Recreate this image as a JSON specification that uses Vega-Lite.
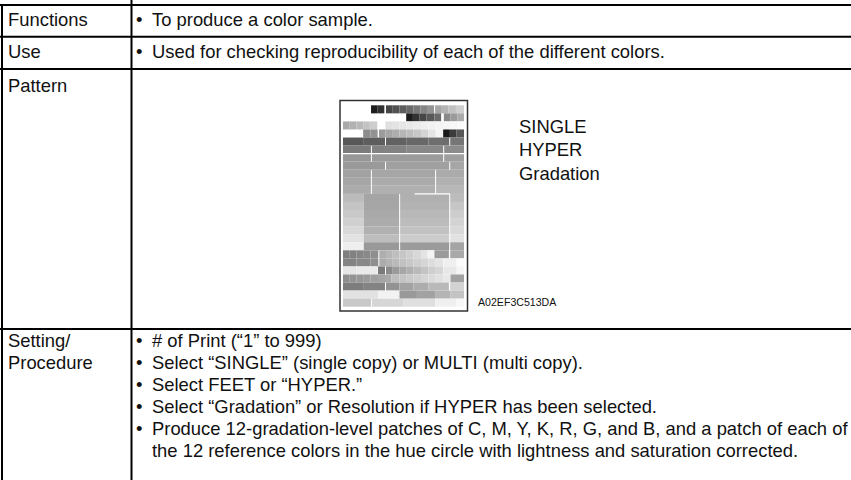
{
  "$schema": "https://vega.github.io/schema/vega-lite/v6.json",
  "width": 851,
  "height": 480,
  "padding": 0,
  "autosize": {"type": "none"},
  "background": "white",
  "config": {"view": {"stroke": null}},
  "datasets": {
    "lines": [
      {"x": 0, "x2": 851, "y": 5, "y2": 5},
      {"x": 0, "x2": 851, "y": 36.7, "y2": 36.7},
      {"x": 0, "x2": 851, "y": 69, "y2": 69},
      {"x": 0, "x2": 851, "y": 329, "y2": 329},
      {"x": 2, "x2": 2, "y": 4, "y2": 480},
      {"x": 131.5, "x2": 131.5, "y": 0, "y2": 480}
    ],
    "texts": [
      {"x": 8, "y": 26, "t": "Functions"},
      {"x": 8, "y": 58, "t": "Use"},
      {"x": 8, "y": 91.5, "t": "Pattern"},
      {"x": 8, "y": 347, "t": "Setting/"},
      {"x": 8, "y": 369, "t": "Procedure"},
      {"x": 136, "y": 26, "t": "•"},
      {"x": 136, "y": 58, "t": "•"},
      {"x": 136, "y": 347, "t": "•"},
      {"x": 136, "y": 369, "t": "•"},
      {"x": 136, "y": 391, "t": "•"},
      {"x": 136, "y": 413, "t": "•"},
      {"x": 136, "y": 435, "t": "•"},
      {"x": 152, "y": 26, "t": "To produce a color sample."},
      {"x": 152, "y": 58, "t": "Used for checking reproducibility of each of the different colors."},
      {"x": 152, "y": 347, "t": "# of Print (“1” to 999)"},
      {"x": 152, "y": 369, "t": "Select “SINGLE” (single copy) or MULTI (multi copy)."},
      {"x": 152, "y": 391, "t": "Select FEET or “HYPER.”"},
      {"x": 152, "y": 413, "t": "Select “Gradation” or Resolution if HYPER has been selected."},
      {"x": 152, "y": 435, "t": "Produce 12-gradation-level patches of C, M, Y, K, R, G, and B, and a patch of each of"},
      {"x": 152, "y": 457, "t": "the 12 reference colors in the hue circle with lightness and saturation corrected."},
      {"x": 519, "y": 132.5, "t": "SINGLE"},
      {"x": 519, "y": 156, "t": "HYPER"},
      {"x": 519, "y": 179.5, "t": "Gradation"}
    ],
    "caption": [
      {"x": 478, "y": 306, "t": "A02EF3C513DA"}
    ],
    "frame": [
      {"x": 340, "x2": 467.5, "y": 100.5, "y2": 311}
    ],
    "patch": [
      {"r": 0, "c": 4.17, "c2": 5.16, "g": "#1e1e1e"},
      {"r": 0, "c": 5.16, "c2": 6.15, "g": "#313131"},
      {"r": 0, "c": 6.4, "c2": 7.4, "g": "#464646"},
      {"r": 0, "c": 7.4, "c2": 8.4, "g": "#525252"},
      {"r": 0, "c": 8.4, "c2": 9.4, "g": "#5e5e5e"},
      {"r": 0, "c": 9.4, "c2": 10.5, "g": "#6a6a6a"},
      {"r": 0, "c": 10.5, "c2": 11.5, "g": "#777777"},
      {"r": 0, "c": 11.5, "c2": 12.5, "g": "#858585"},
      {"r": 0, "c": 12.5, "c2": 13.55, "g": "#939393"},
      {"r": 0, "c": 13.7, "c2": 14.7, "g": "#a5a5a5"},
      {"r": 0, "c": 14.7, "c2": 15.7, "g": "#b3b3b3"},
      {"r": 0, "c": 15.7, "c2": 16.8, "g": "#c1c1c1"},
      {"r": 0, "c": 16.8, "c2": 18, "g": "#cfcfcf"},
      {"r": 1, "c": 9.4, "c2": 10.4, "g": "#1c1c1c"},
      {"r": 1, "c": 10.4, "c2": 11.4, "g": "#323232"},
      {"r": 1, "c": 11.4, "c2": 12.4, "g": "#464646"},
      {"r": 1, "c": 12.4, "c2": 13.6, "g": "#585858"},
      {"r": 1, "c": 13.6, "c2": 14.6, "g": "#6a6a6a"},
      {"r": 1, "c": 15, "c2": 16, "g": "#898989"},
      {"r": 1, "c": 16, "c2": 17, "g": "#9a9a9a"},
      {"r": 1, "c": 17, "c2": 18, "g": "#ababab"},
      {"r": 2, "c": 0, "c2": 1, "g": "#a9a9a9"},
      {"r": 2, "c": 1, "c2": 2, "g": "#b1b1b1"},
      {"r": 2, "c": 2, "c2": 3, "g": "#b9b9b9"},
      {"r": 2, "c": 3, "c2": 4, "g": "#c3c3c3"},
      {"r": 2, "c": 4, "c2": 5.1, "g": "#cdcdcd"},
      {"r": 2, "c": 6.3, "c2": 7.3, "g": "#e0e0e0"},
      {"r": 2, "c": 7.3, "c2": 8.4, "g": "#e3e3e3"},
      {"r": 2, "c": 8.4, "c2": 9.4, "g": "#e6e6e6"},
      {"r": 2, "c": 9.4, "c2": 10.5, "g": "#e9e9e9"},
      {"r": 2, "c": 10.5, "c2": 11.6, "g": "#ececec"},
      {"r": 2, "c": 11.6, "c2": 12.7, "g": "#efefef"},
      {"r": 2, "c": 12.7, "c2": 13.8, "g": "#f2f2f2"},
      {"r": 2, "c": 13.8, "c2": 14.9, "g": "#f4f4f4"},
      {"r": 2, "c": 14.9, "c2": 16, "g": "#f6f6f6"},
      {"r": 2, "c": 16, "c2": 17, "g": "#f8f8f8"},
      {"r": 2, "c": 17, "c2": 18, "g": "#fafafa"},
      {"r": 3, "c": 3, "c2": 4.1, "g": "#8c8c8c"},
      {"r": 3, "c": 4.1, "c2": 5.15, "g": "#929292"},
      {"r": 3, "c": 5.35, "c2": 6.3, "g": "#9b9b9b"},
      {"r": 3, "c": 6.3, "c2": 7.3, "g": "#a6a6a6"},
      {"r": 3, "c": 7.3, "c2": 8.4, "g": "#aeaeae"},
      {"r": 3, "c": 8.4, "c2": 9.4, "g": "#b6b6b6"},
      {"r": 3, "c": 9.4, "c2": 10.5, "g": "#bebebe"},
      {"r": 3, "c": 10.5, "c2": 11.6, "g": "#c8c8c8"},
      {"r": 3, "c": 11.6, "c2": 12.7, "g": "#d4d4d4"},
      {"r": 3, "c": 12.7, "c2": 13.8, "g": "#e4e4e4"},
      {"r": 3, "c": 13.8, "c2": 14.9, "g": "#f4f4f4"},
      {"r": 3, "c": 14.9, "c2": 15.9, "g": "#1a1a1a"},
      {"r": 3, "c": 15.9, "c2": 16.9, "g": "#3c3c3c"},
      {"r": 3, "c": 16.9, "c2": 18, "g": "#575757"},
      {"r": 4, "c": 0, "c2": 3.1, "g": "#585858"},
      {"r": 4, "c": 3.1, "c2": 6.25, "g": "#5e5e5e"},
      {"r": 4, "c": 6.4, "c2": 9.4, "g": "#626262"},
      {"r": 4, "c": 9.4, "c2": 12.7, "g": "#686868"},
      {"r": 4, "c": 12.7, "c2": 15.8, "g": "#6e6e6e"},
      {"r": 4, "c": 15.95, "c2": 18, "g": "#767676"},
      {"r": 5, "c": 0, "c2": 4.15, "g": "#7b7b7b"},
      {"r": 5, "c": 4.3, "c2": 9.4, "g": "#828282"},
      {"r": 5, "c": 9.4, "c2": 14.9, "g": "#888888"},
      {"r": 5, "c": 15.05, "c2": 18, "g": "#8c8c8c"},
      {"r": 6, "c": 0, "c2": 4.15, "g": "#979797"},
      {"r": 6, "c": 4.3, "c2": 14.9, "g": "#9b9b9b"},
      {"r": 6, "c": 15.05, "c2": 18, "g": "#9f9f9f"},
      {"r": 7, "c": 0, "c2": 6.25, "g": "#9a9a9a"},
      {"r": 7, "c": 6.4, "c2": 15.8, "g": "#a0a0a0"},
      {"r": 7, "c": 15.95, "c2": 18, "g": "#a6a6a6"},
      {"r": 8, "c": 0, "c2": 4.15, "g": "#a2a2a2"},
      {"r": 8, "c": 4.3, "c2": 13.7, "g": "#a6a6a6"},
      {"r": 8, "c": 13.85, "c2": 18, "g": "#ababab"},
      {"r": 9, "c": 0, "c2": 4.15, "g": "#a6a6a6"},
      {"r": 9, "c": 4.3, "c2": 13.7, "g": "#ababab"},
      {"r": 9, "c": 13.85, "c2": 18, "g": "#b1b1b1"},
      {"r": 10, "c": 0, "c2": 4.15, "g": "#ababab"},
      {"r": 10, "c": 4.3, "c2": 13.7, "g": "#b0b0b0"},
      {"r": 10, "c": 13.85, "c2": 18, "g": "#b7b7b7"},
      {"r": 11, "c": 0, "c2": 3.1, "g": "#bbbbbb"},
      {"r": 11, "c": 3.1, "c2": 8.35, "g": "#a5a5a5"},
      {"r": 11, "c": 8.5, "c2": 15.8, "g": "#b0b0b0"},
      {"r": 11, "c": 15.95, "c2": 18, "g": "#bcbcbc"},
      {"r": 12, "c": 0, "c2": 3.1, "g": "#c4c4c4"},
      {"r": 12, "c": 3.1, "c2": 8.35, "g": "#a6a6a6"},
      {"r": 12, "c": 8.5, "c2": 15.8, "g": "#b3b3b3"},
      {"r": 12, "c": 15.95, "c2": 18, "g": "#c6c6c6"},
      {"r": 13, "c": 0, "c2": 3.1, "g": "#c9c9c9"},
      {"r": 13, "c": 3.1, "c2": 8.35, "g": "#a9a9a9"},
      {"r": 13, "c": 8.5, "c2": 15.8, "g": "#b8b8b8"},
      {"r": 13, "c": 15.95, "c2": 18, "g": "#cdcdcd"},
      {"r": 14, "c": 0, "c2": 3.1, "g": "#d0d0d0"},
      {"r": 14, "c": 3.1, "c2": 8.35, "g": "#acacac"},
      {"r": 14, "c": 8.5, "c2": 15.8, "g": "#bcbcbc"},
      {"r": 14, "c": 15.95, "c2": 18, "g": "#d3d3d3"},
      {"r": 15, "c": 0, "c2": 3.1, "g": "#d8d8d8"},
      {"r": 15, "c": 3.1, "c2": 8.35, "g": "#b1b1b1"},
      {"r": 15, "c": 8.5, "c2": 15.8, "g": "#c2c2c2"},
      {"r": 15, "c": 15.95, "c2": 18, "g": "#d9d9d9"},
      {"r": 16, "c": 0, "c2": 3.1, "g": "#e2e2e2"},
      {"r": 16, "c": 3.1, "c2": 8.35, "g": "#bdbdbd"},
      {"r": 16, "c": 8.5, "c2": 15.8, "g": "#cccccc"},
      {"r": 16, "c": 15.95, "c2": 18, "g": "#e2e2e2"},
      {"r": 17, "c": 0, "c2": 3.1, "g": "#efefef"},
      {"r": 17, "c": 3.1, "c2": 8.35, "g": "#999999"},
      {"r": 17, "c": 8.5, "c2": 15.8, "g": "#9b9b9b"},
      {"r": 17, "c": 15.95, "c2": 18, "g": "#a4a4a4"},
      {"r": 18, "c": 0, "c2": 1, "g": "#7e7e7e"},
      {"r": 18, "c": 1, "c2": 2, "g": "#818181"},
      {"r": 18, "c": 2, "c2": 3.1, "g": "#858585"},
      {"r": 18, "c": 3.1, "c2": 4.1, "g": "#898989"},
      {"r": 18, "c": 4.1, "c2": 5.25, "g": "#8e8e8e"},
      {"r": 18, "c": 5.4, "c2": 6.4, "g": "#aeaeae"},
      {"r": 18, "c": 6.4, "c2": 7.4, "g": "#b6b6b6"},
      {"r": 18, "c": 7.4, "c2": 8.4, "g": "#bebebe"},
      {"r": 18, "c": 8.4, "c2": 9.4, "g": "#c6c6c6"},
      {"r": 18, "c": 9.4, "c2": 10.5, "g": "#cecece"},
      {"r": 18, "c": 10.5, "c2": 11.6, "g": "#d8d8d8"},
      {"r": 18, "c": 11.6, "c2": 12.6, "g": "#e4e4e4"},
      {"r": 18, "c": 12.6, "c2": 13.6, "g": "#f4f4f4"},
      {"r": 18, "c": 13.6, "c2": 15.75, "g": "#9a9a9a"},
      {"r": 18, "c": 15.95, "c2": 18, "g": "#a9a9a9"},
      {"r": 19, "c": 0, "c2": 2, "g": "#838383"},
      {"r": 19, "c": 2, "c2": 4.1, "g": "#888888"},
      {"r": 19, "c": 4.1, "c2": 5.25, "g": "#8e8e8e"},
      {"r": 19, "c": 5.4, "c2": 6.4, "g": "#acacac"},
      {"r": 19, "c": 6.4, "c2": 7.4, "g": "#b3b3b3"},
      {"r": 19, "c": 7.4, "c2": 8.4, "g": "#bababa"},
      {"r": 19, "c": 8.4, "c2": 9.4, "g": "#c1c1c1"},
      {"r": 19, "c": 9.4, "c2": 10.5, "g": "#c8c8c8"},
      {"r": 19, "c": 10.5, "c2": 11.6, "g": "#cfcfcf"},
      {"r": 19, "c": 11.6, "c2": 12.7, "g": "#d6d6d6"},
      {"r": 19, "c": 12.7, "c2": 13.8, "g": "#dddddd"},
      {"r": 19, "c": 13.8, "c2": 14.9, "g": "#e4e4e4"},
      {"r": 19, "c": 14.95, "c2": 16.9, "g": "#efefef"},
      {"r": 19, "c": 16.9, "c2": 18, "g": "#fbfbfb"},
      {"r": 20, "c": 0, "c2": 2, "g": "#e6e6e6"},
      {"r": 20, "c": 2, "c2": 5.1, "g": "#eaeaea"},
      {"r": 20, "c": 5.2, "c2": 6.25, "g": "#7a7a7a"},
      {"r": 20, "c": 6.4, "c2": 7.4, "g": "#8a8a8a"},
      {"r": 20, "c": 7.4, "c2": 8.4, "g": "#9a9a9a"},
      {"r": 20, "c": 8.4, "c2": 9.4, "g": "#a6a6a6"},
      {"r": 20, "c": 9.4, "c2": 10.5, "g": "#b0b0b0"},
      {"r": 20, "c": 10.5, "c2": 11.6, "g": "#bababa"},
      {"r": 20, "c": 11.6, "c2": 12.7, "g": "#c4c4c4"},
      {"r": 20, "c": 12.7, "c2": 13.8, "g": "#cecece"},
      {"r": 20, "c": 13.8, "c2": 14.9, "g": "#d6d6d6"},
      {"r": 20, "c": 14.95, "c2": 16.9, "g": "#e8e8e8"},
      {"r": 20, "c": 16.9, "c2": 18, "g": "#f5f5f5"},
      {"r": 21, "c": 0, "c2": 1, "g": "#8f8f8f"},
      {"r": 21, "c": 1, "c2": 2, "g": "#939393"},
      {"r": 21, "c": 2, "c2": 3.1, "g": "#979797"},
      {"r": 21, "c": 3.1, "c2": 4.1, "g": "#9b9b9b"},
      {"r": 21, "c": 4.1, "c2": 5.2, "g": "#9f9f9f"},
      {"r": 21, "c": 5.2, "c2": 6.25, "g": "#a4a4a4"},
      {"r": 21, "c": 6.25, "c2": 7.2, "g": "#a9a9a9"},
      {"r": 21, "c": 7.2, "c2": 8.4, "g": "#bdbdbd"},
      {"r": 21, "c": 8.4, "c2": 9.4, "g": "#c3c3c3"},
      {"r": 21, "c": 9.4, "c2": 10.5, "g": "#c9c9c9"},
      {"r": 21, "c": 10.5, "c2": 11.6, "g": "#cfcfcf"},
      {"r": 21, "c": 11.6, "c2": 12.7, "g": "#d5d5d5"},
      {"r": 21, "c": 12.7, "c2": 13.8, "g": "#dbdbdb"},
      {"r": 21, "c": 13.8, "c2": 14.9, "g": "#e1e1e1"},
      {"r": 21, "c": 14.9, "c2": 16, "g": "#e8e8e8"},
      {"r": 21, "c": 16, "c2": 18, "g": "#a2a2a2"},
      {"r": 22, "c": 0, "c2": 3.1, "g": "#7d7d7d"},
      {"r": 22, "c": 3.1, "c2": 6.25, "g": "#838383"},
      {"r": 22, "c": 6.4, "c2": 8.4, "g": "#939393"},
      {"r": 22, "c": 8.4, "c2": 10.5, "g": "#a2a2a2"},
      {"r": 22, "c": 10.5, "c2": 12.7, "g": "#adadad"},
      {"r": 22, "c": 12.7, "c2": 15.75, "g": "#b9b9b9"},
      {"r": 22, "c": 15.95, "c2": 18, "g": "#d2d2d2"},
      {"r": 23, "c": 0, "c2": 5.2, "g": "#e2e2e2"},
      {"r": 23, "c": 5.2, "c2": 8.4, "g": "#f2f2f2"},
      {"r": 23, "c": 8.4, "c2": 11, "g": "#999999"},
      {"r": 23, "c": 11, "c2": 13.7, "g": "#a2a2a2"},
      {"r": 23, "c": 13.7, "c2": 16, "g": "#b4b4b4"},
      {"r": 23, "c": 16, "c2": 18, "g": "#c3c3c3"},
      {"r": 24, "c": 0, "c2": 4.15, "g": "#c8c8c8"},
      {"r": 24, "c": 4.3, "c2": 9, "g": "#d6d6d6"},
      {"r": 24, "c": 9, "c2": 13.7, "g": "#dfdfdf"},
      {"r": 24, "c": 13.7, "c2": 16.9, "g": "#efefef"},
      {"r": 24, "c": 16.9, "c2": 18, "g": "#f8f8f8"}
    ],
    "gaps": [
      {"b": 6, "c": 0, "c2": 18},
      {"b": 11, "c": 10.65, "c2": 15.9}
    ]
  },
  "layer": [
    {
      "data": {"name": "patch"},
      "mark": {"type": "rect"},
      "encoding": {
        "x": {"field": "c", "type": "quantitative", "scale": {"domain": [0, 18], "range": [343, 464], "nice": false, "zero": false}, "axis": null},
        "x2": {"field": "c2"},
        "y": {"field": "r", "type": "ordinal", "scale": {"range": [105.3, 306.7], "paddingInner": 0, "paddingOuter": 0}, "axis": null},
        "color": {"field": "g", "type": "nominal", "scale": null, "legend": null}
      }
    },
    {
      "data": {"name": "gaps"},
      "mark": {"type": "rule", "color": "white", "strokeWidth": 1.2},
      "encoding": {
        "x": {"field": "c", "type": "quantitative", "scale": {"domain": [0, 18], "range": [343, 464], "nice": false, "zero": false}, "axis": null},
        "x2": {"field": "c2"},
        "y": {"field": "b", "type": "quantitative", "scale": {"domain": [0, 25], "range": [105.3, 306.7], "nice": false, "zero": false}, "axis": null}
      }
    },
    {
      "data": {"name": "frame"},
      "mark": {"type": "rect", "filled": false, "stroke": "#333333", "strokeWidth": 1.5},
      "encoding": {
        "x": {"field": "x", "type": "quantitative", "scale": {"domain": [0, 851], "range": [0, 851], "nice": false, "zero": false}, "axis": null},
        "x2": {"field": "x2"},
        "y": {"field": "y", "type": "quantitative", "scale": {"domain": [0, 480], "range": [0, 480], "nice": false, "zero": false}, "axis": null},
        "y2": {"field": "y2"}
      }
    },
    {
      "data": {"name": "lines"},
      "mark": {"type": "rule", "color": "#000000", "strokeWidth": 2},
      "encoding": {
        "x": {"field": "x", "type": "quantitative", "scale": {"domain": [0, 851], "range": [0, 851], "nice": false, "zero": false}, "axis": null},
        "x2": {"field": "x2"},
        "y": {"field": "y", "type": "quantitative", "scale": {"domain": [0, 480], "range": [0, 480], "nice": false, "zero": false}, "axis": null},
        "y2": {"field": "y2"}
      }
    },
    {
      "data": {"name": "texts"},
      "mark": {"type": "text", "align": "left", "baseline": "alphabetic", "font": "Liberation Sans", "fontSize": 18.4, "color": "#111111"},
      "encoding": {
        "x": {"field": "x", "type": "quantitative", "scale": {"domain": [0, 851], "range": [0, 851], "nice": false, "zero": false}, "axis": null},
        "y": {"field": "y", "type": "quantitative", "scale": {"domain": [0, 480], "range": [0, 480], "nice": false, "zero": false}, "axis": null},
        "text": {"field": "t", "type": "nominal"}
      }
    },
    {
      "data": {"name": "caption"},
      "mark": {"type": "text", "align": "left", "baseline": "alphabetic", "font": "Liberation Sans", "fontSize": 10.6, "color": "#111111"},
      "encoding": {
        "x": {"field": "x", "type": "quantitative", "scale": {"domain": [0, 851], "range": [0, 851], "nice": false, "zero": false}, "axis": null},
        "y": {"field": "y", "type": "quantitative", "scale": {"domain": [0, 480], "range": [0, 480], "nice": false, "zero": false}, "axis": null},
        "text": {"field": "t", "type": "nominal"}
      }
    }
  ],
  "resolve": {"scale": {"x": "independent", "y": "independent"}}
}
